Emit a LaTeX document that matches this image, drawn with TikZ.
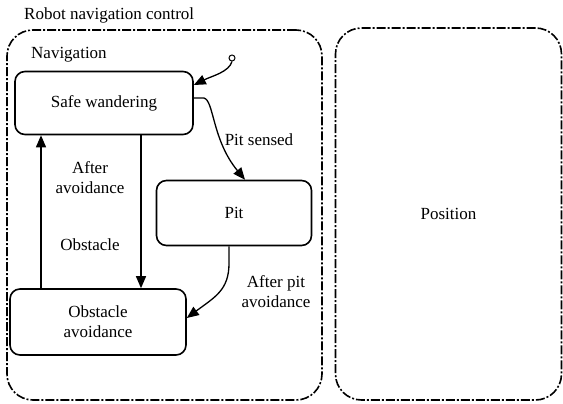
\documentclass[tikz,border=0pt]{standalone}
\usepackage{fontspec}
\setmainfont{Liberation Serif}
\newfontfamily\diagfont{Liberation Serif}
\usetikzlibrary{arrows.meta,calc}

\begin{document}
\begin{tikzpicture}[x=1pt, y=-1pt, font=\diagfont\fontsize{17}{20}\selectfont,
  state/.style={shape=rectangle, rounded corners=10pt, draw=black, line width=1.6pt, align=center},
  region/.style={shape=rectangle, rounded corners=26pt, draw=black, line width=1.6pt, dash pattern=on 9pt off 2pt on 2pt off 2pt},
  trans/.style={-{Triangle[length=12pt,width=10pt]}, line width=1.3pt, draw=black},
  lbl/.style={align=center, inner sep=0pt}]
\useasboundingbox (0,0) rectangle (563,404);
% regions
\node[region, minimum width=315pt, minimum height=370pt] (nav) at (164.5,215) {};
\node[region, minimum width=226pt, minimum height=372pt] (pos) at (448.5,214) {Position};
\node[lbl, anchor=west] (title) at (24,15) {Robot navigation control};
\node[lbl, anchor=west] (navname) at (31,55) {Navigation};
% states
\node[state, minimum width=178pt, minimum height=63pt] (sw) at (104,103) {Safe wandering};
\node[state, minimum width=155pt, minimum height=65pt] (pit) at (234,213) {Pit};
\node[state, minimum width=176pt, minimum height=66pt] (obs) at (98,322) {Obstacle\\avoidance};
\node[shape=circle, draw=black, line width=1pt, inner sep=0pt, minimum size=6pt] (init) at (232,58) {};
% transitions
\coordinate (d1) at ($(sw.south)+(37,0)$);
\coordinate (u1) at ($(obs.north)+(-57,0)$);
\draw[trans] (init.south) .. controls (229,72) and (212,76) .. ($(sw.east)+(0,-18)$);
\draw[trans] ($(sw.east)+(0,-5)$) -- ++(10,0) .. controls (214,100) and (212,140) .. ($(pit.north)+(11,0)$);
\draw[trans] (d1) -- (d1 |- obs.north);
\draw[trans] (u1) -- (u1 |- sw.south);
\draw[trans] ($(pit.south)+(-5,0)$) -- ++(0,17) .. controls (229,290) and (215,297) .. ($(obs.east)+(0,-4)$);
% labels
\node[lbl] (l1) at (259,140) {Pit sensed};
\node[lbl] (l2) at (90,178) {After\\avoidance};
\node[lbl] (l3) at (90,245) {Obstacle};
\node[lbl] (l4) at (276,292) {After pit\\avoidance};
\end{tikzpicture}
\end{document}
